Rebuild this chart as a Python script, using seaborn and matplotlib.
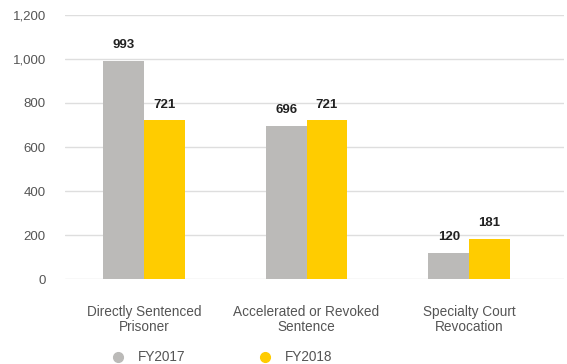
import numpy as np
import pandas as pd
import matplotlib
matplotlib.use("Agg")
import matplotlib.pyplot as plt
import seaborn as sns
from matplotlib.lines import Line2D

# ── Data ──────────────────────────────────────────────────────────────────────
CATEGORIES = ["Directly Sentenced\nPrisoner", "Accelerated or Revoked\nSentence",
              "Specialty Court\nRevocation"]
FY2017 = [993, 696, 120]
FY2018 = [721, 721, 181]
YEARS = ["FY2017", "FY2018"]
Y_TICKS = [0, 200, 400, 600, 800, 1000, 1200]

COLORS = {"FY2017": "#BBBAB8", "FY2018": "#FFCC00"}
TEXT_GRAY = "#555555"

df = pd.DataFrame({
    "category": CATEGORIES * 2,
    "year": ["FY2017"] * 3 + ["FY2018"] * 3,
    "value": FY2017 + FY2018,
})

# ── Plot ──────────────────────────────────────────────────────────────────────
sns.set_style("white")
plt.rcParams["font.family"] = ["Liberation Sans", "DejaVu Sans"]

fig = plt.figure(figsize=(5.67, 3.64), dpi=100)
ax = fig.add_axes([0.115, 0.2335, 0.88, 0.7253])

sns.barplot(data=df, x="category", y="value", hue="year", hue_order=YEARS,
            palette=COLORS, width=0.5, saturation=1, linewidth=0,
            legend=False, ax=ax)

for container in ax.containers:
    ax.bar_label(container, fmt="%d", padding=7, fontsize=9.5, fontweight="bold",
                 color="#222222")

ax.set_ylim(0, 1200)
ax.set_xlim(-0.485, 2.585)
ax.set_yticks(Y_TICKS)
ax.set_yticklabels([f"{v:,}" for v in Y_TICKS])
ax.grid(axis="y", color="#DEDEDE", linewidth=1)
ax.set_axisbelow(True)
sns.despine(ax=ax, left=True, bottom=True)
ax.tick_params(axis="y", length=0, pad=14, labelsize=9.5, labelcolor=TEXT_GRAY)
ax.tick_params(axis="x", length=0, pad=19, labelsize=9.8, labelcolor=TEXT_GRAY)
for lbl in ax.get_xticklabels():
    lbl.set_linespacing(1.05)
ax.set_xlabel("")
ax.set_ylabel("")

handles = [Line2D([0], [0], marker="o", linestyle="", markersize=7,
                  markerfacecolor=COLORS[y], markeredgecolor=COLORS[y], label=y)
           for y in YEARS]
fig.legend(handles=handles, loc="lower left", bbox_to_anchor=(0.162, -0.035),
           ncol=2, frameon=False, fontsize=9.8, labelcolor=TEXT_GRAY,
           handletextpad=0.5, columnspacing=4.8)

fig.savefig("out.png", dpi=100)
